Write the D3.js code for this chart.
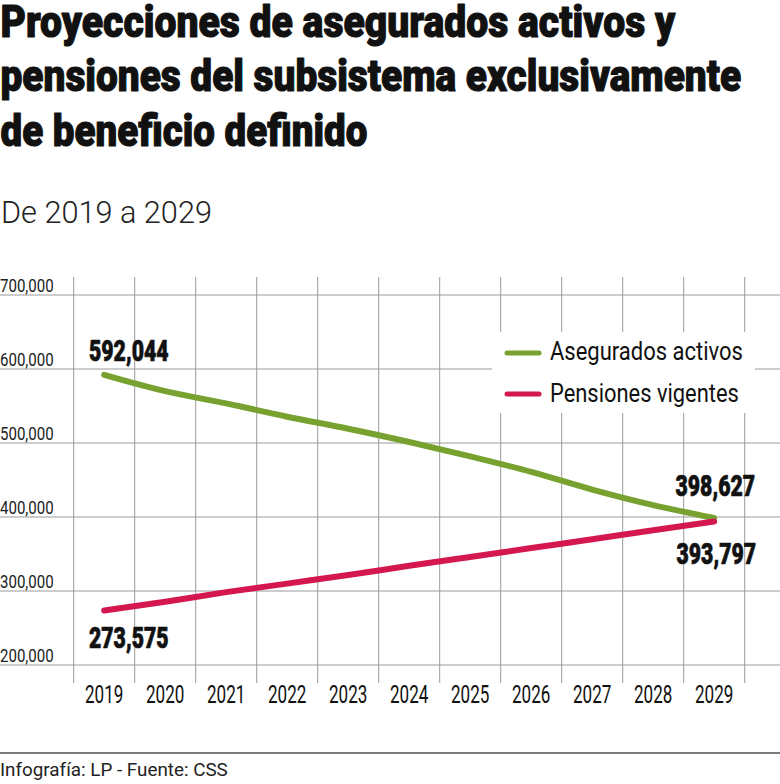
<!DOCTYPE html>
<html>
<head>
<meta charset="utf-8">
<script src="https://cdn.jsdelivr.net/npm/d3@7"></script>
<style>
  html, body { margin: 0; padding: 0; background: #fff; }
  svg { display: block; }
</style>
</head>
<body>
<svg id="chart" width="780" height="784"></svg>
<script>
// ---- data ----
const years = ["2019","2020","2021","2022","2023","2024","2025","2026","2027","2028","2029"];
const asegurados = [592044, 570000, 553500, 535500, 519300, 501400, 482000, 461000, 437000, 416000, 398627];
const pensiones = [273575, 285500, 298500, 310000, 321500, 334000, 346000, 358000, 370000, 382000, 393797];
const yTicks = [200000, 300000, 400000, 500000, 600000, 700000];
const seriesNames = ["Asegurados activos", "Pensiones vigentes"];
const seriesColors = ["#77a230", "#d4174f"];
const titleLines = ["Proyecciones de asegurados activos y", "pensiones del subsistema exclusivamente", "de beneficio definido"];
const subtitle = "De 2019 a 2029";
const footer = "Infografía: LP - Fuente: CSS";

const svg = d3.select("#chart");
const FONT = "Roboto, 'Liberation Sans', sans-serif";

// text placed in a group that is horizontally condensed by a transform
// opts: {x, y, size, weight, fill, anchor, width (target) or factor, stroke}
function label(parent, str, o) {
  const g = parent.append("g");
  const t = g.append("text").attr("x", 0).attr("y", 0)
    .attr("font-family", FONT).attr("font-weight", o.weight || 400)
    .attr("font-size", o.size).attr("fill", o.fill || "#111")
    .attr("text-anchor", o.anchor || "start").text(str);
  if (o.stroke) t.attr("stroke", o.fill || "#111").attr("stroke-width", o.stroke).attr("stroke-linejoin", "round");
  const w = t.node().getComputedTextLength();
  const f = o.width ? o.width / w : (o.factor || 1);
  g.attr("transform", `translate(${o.x},${o.y}) scale(${f},1)`);
  return g;
}

// ---- title ----
const titleBase = [37, 91, 146];
const titleW = [675, 741, 367];
titleLines.forEach((t, i) => {
  label(svg, t, {x: 0.5, y: titleBase[i], size: 44, weight: 900, stroke: 1.1, width: titleW[i]});
});
label(svg, subtitle, {x: 1, y: 222.5, size: 31, weight: 300, fill: "#222", width: 211});

// ---- scales ----
const x = d3.scaleBand().domain(years).range([73.7, 744.7]).padding(0);
const y = d3.scaleLinear().domain([200000, 700000]).range([665, 295]);
const cx = d => x(d) + x.bandwidth() / 2;

// ---- grid ----
const vBounds = years.map(d => x(d)).concat([x.range()[1]]);
svg.append("g").selectAll("line").data(vBounds).join("line")
  .attr("x1", d => d).attr("x2", d => d).attr("y1", 277).attr("y2", 683)
  .attr("stroke", "#9a9a9a").attr("stroke-width", 1);
svg.append("g").selectAll("line").data(yTicks).join("line")
  .attr("x1", 0).attr("x2", 780).attr("y1", d => y(d)).attr("y2", d => y(d))
  .attr("stroke", "#9a9a9a").attr("stroke-width", 1);

// y labels
const fmt = d3.format(",");
const gy = svg.append("g");
yTicks.forEach(d => label(gy, fmt(d), {x: 0, y: y(d) - 3.5, size: 17.5, fill: "#222", factor: 0.86}));

// x labels
const gx = svg.append("g");
years.forEach(d => label(gx, d, {x: cx(d), y: 702.5, size: 25.5, anchor: "middle", factor: 0.67}));

// ---- legend background ----
svg.append("rect").attr("x", 492).attr("y", 332).attr("width", 263).attr("height", 81).attr("fill", "#fff");

// ---- lines ----
const line = d3.line().x((d, i) => cx(years[i])).y(d => y(d)).curve(d3.curveMonotoneX);
[asegurados, pensiones].forEach((s, i) => {
  svg.append("path").datum(s).attr("d", line)
    .attr("fill", "none").attr("stroke", seriesColors[i]).attr("stroke-width", 6)
    .attr("stroke-linecap", "round").attr("stroke-linejoin", "round");
});

// ---- legend ----
const legY = [353, 394];
const legTextY = [359.5, 401.5];
const legW = [193, 189];
seriesNames.forEach((n, i) => {
  svg.append("line").attr("x1", 507).attr("x2", 539).attr("y1", legY[i]).attr("y2", legY[i])
    .attr("stroke", seriesColors[i]).attr("stroke-width", 5).attr("stroke-linecap", "round");
  label(svg, n, {x: 550, y: legTextY[i], size: 26.5, width: legW[i]});
});

// ---- value labels ----
const n = years.length - 1;
const vlab = [
  {v: asegurados[0], x: 89, y: 360.5},
  {v: pensiones[0], x: 89, y: 648},
  {v: asegurados[n], x: 675.5, y: 496},
  {v: pensiones[n], x: 676.5, y: 563.5}
];
const gv = svg.append("g");
vlab.forEach(d => label(gv, fmt(d.v), {x: d.x, y: d.y, size: 29.5, weight: 900, stroke: 0.7, factor: 0.72}));

// ---- footer ----
svg.append("line").attr("x1", 0).attr("x2", 780).attr("y1", 753).attr("y2", 753)
  .attr("stroke", "#7a7a7a").attr("stroke-width", 2);
label(svg, footer, {x: 0, y: 776, size: 18, fill: "#222", width: 228});
</script>
</body>
</html>
